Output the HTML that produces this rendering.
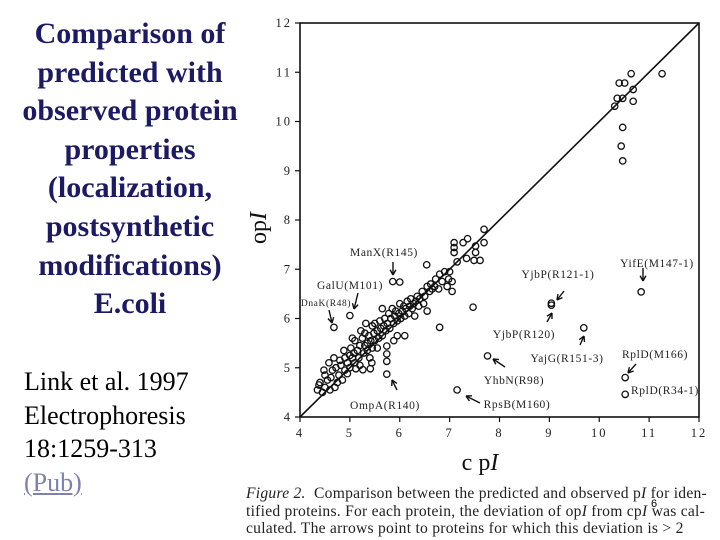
<!DOCTYPE html>
<html><head><meta charset="utf-8">
<style>
body{margin:0;background:#fff;}
#wrap{position:relative;width:720px;height:540px;overflow:hidden;background:#fff;font-family:"Liberation Serif",serif;}
.title{position:absolute;left:0;top:15px;width:260px;text-align:center;font-weight:bold;font-size:30px;line-height:38.6px;color:#1c1a63;}
.ref{position:absolute;left:24px;top:365px;font-size:26px;line-height:33.5px;color:#000;}
.ref a{color:#8080b0;text-decoration:underline;}
.cap{position:absolute;left:246px;top:485px;width:470px;font-family:"Liberation Serif",serif;font-size:15.6px;line-height:17.5px;letter-spacing:0.25px;color:#222;white-space:nowrap;}
</style></head>
<body>
<div id="wrap">
<div class="title">Comparison of<br>predicted with<br>observed protein<br>properties<br>(localization,<br>postsynthetic<br>modifications)<br>E.coli</div>
<div class="ref">Link et al. 1997<br>Electrophoresis<br>18:1259-313<br><a>(Pub)</a></div>
<svg id="chart" width="720" height="540" style="position:absolute;left:0;top:0"></svg>
<div class="cap"><i>Figure 2.</i>&nbsp; Comparison between the predicted and observed p<i>I</i> for iden-<br>tified proteins. For each protein, the deviation of op<i>I</i> from cp<i>I</i> was cal-<br>culated. The arrows point to proteins for which this deviation is &gt; 2</div>
<div style="position:absolute;left:651px;top:498px;font-size:11px;font-family:'Liberation Sans',sans-serif">6</div>
</div>
<script>
const xTicks=[4,5,6,7,8,9,10,11,12];
const yTicks=[4,5,6,7,8,9,10,11,12];
const cpI=[4.68,5.0,5.86,6.0,6.54,9.04,9.04,10.84,9.69,7.76,10.52,10.52,7.15,5.74,6.8,7.47,6.1,5.74,5.74,5.74,5.26,5.41,5.44,
11.26,10.64,10.4,10.51,10.68,10.31,10.36,10.47,10.68,10.47,10.44,10.47,
7.09,7.09,7.09,7.27,7.36,7.52,7.52,7.69,7.69,7.34,7.49,7.61,7.15,
4.35,4.4,4.45,4.5,4.5,4.55,4.6,4.62,4.65,4.7,4.72,4.75,4.78,4.8,4.82,4.85,4.9,4.9,4.95,5.0,5.0,5.02,5.05,5.08,5.1,5.1,5.15,5.18,5.2,5.2,5.25,5.28,5.3,5.3,5.35,5.35,5.38,5.4,5.42,5.45,5.48,5.5,5.5,5.55,5.58,5.6,5.62,5.65,5.68,5.7,5.72,5.75,5.78,5.8,5.82,5.85,5.88,5.9,5.92,5.95,5.98,6.0,6.02,6.05,6.08,6.1,6.12,6.15,6.18,6.2,6.22,6.25,6.28,6.3,6.32,6.35,6.38,6.4,6.45,6.48,6.5,6.55,6.55,6.6,6.62,6.65,6.7,6.72,6.78,6.8,6.85,6.9,6.95,6.98,7.0,7.05,7.05,4.38,4.48,4.58,4.68,4.88,5.12,5.22,5.32,5.45,5.55,5.65,5.88,5.95,4.95,5.05];
const opI=[5.82,6.06,6.75,6.74,7.09,6.31,6.27,6.54,5.81,5.24,4.80,4.46,4.55,4.87,5.82,6.23,5.65,5.44,5.28,5.13,4.96,4.98,5.1,
10.97,10.97,10.78,10.78,10.65,10.31,10.47,10.47,10.41,9.88,9.5,9.2,
7.54,7.44,7.34,7.54,7.62,7.47,7.34,7.81,7.54,7.22,7.18,7.18,7.15,
4.55,4.7,4.5,4.85,4.6,4.75,4.55,4.8,4.95,4.6,5.0,4.7,4.85,5.15,5.05,4.75,5.2,4.95,5.1,5.25,5.0,5.4,5.2,5.3,5.55,5.1,5.35,5.2,5.45,5.05,5.6,5.3,5.45,5.7,5.5,5.35,5.65,5.2,5.55,5.4,5.7,5.55,5.9,5.75,5.6,5.95,5.8,5.65,5.85,6.0,5.75,5.9,6.1,5.8,6.0,6.2,5.9,6.05,6.15,5.95,6.1,6.3,6.0,6.15,6.25,6.05,6.2,6.35,6.1,6.25,6.4,6.2,6.3,6.05,6.35,6.45,6.25,6.4,6.55,6.3,6.45,6.65,6.15,6.55,6.7,6.6,6.65,6.8,6.6,6.9,6.75,6.95,6.65,6.8,6.95,6.55,6.75,4.65,4.95,5.1,5.2,5.35,4.98,5.75,5.9,5.85,5.4,6.2,5.55,5.65,4.88,5.6];
const labels=["ManX(R145)","GalU(M101)","DnaK(R48)","OmpA(R140)","RpsB(M160)","YhbN(R98)","YjbP(R120)","YjbP(R121-1)","YajG(R151-3)","YifE(M147-1)","RplD(M166)","RplD(R34-1)"];
const NS="http://www.w3.org/2000/svg";
const svg=document.getElementById('chart');
const X0=300,X1=699,Y0=417,Y1=23;
function sx(v){return X0+(v-4)/(12-4)*(X1-X0);}
function sy(v){return Y0-(v-4)/(12-4)*(Y0-Y1);}
function mk(t,a){const e=document.createElementNS(NS,t);for(const k in a)e.setAttribute(k,a[k]);svg.appendChild(e);return e;}
let f=mk('rect',{x:X0,y:Y1,width:X1-X0,height:Y0-Y1,fill:'none',stroke:'#111','stroke-width':1.6});


let d=mk('line',{x1:sx(4),y1:sy(4),x2:sx(12),y2:sy(12),stroke:'#111','stroke-width':1.6});


xTicks.forEach(v=>{
 mk('line',{x1:sx(v),y1:Y0,x2:sx(v),y2:Y0+5,stroke:'#111','stroke-width':1.2});
 const t=mk('text',{x:sx(v),y:Y0+20,'text-anchor':'middle','font-size':12.5,'letter-spacing':2,fill:'#222','font-family':'Liberation Serif, serif'});
 t.textContent=v;
 
 
});
yTicks.forEach(v=>{
 mk('line',{x1:X0-5,y1:sy(v),x2:X0,y2:sy(v),stroke:'#111','stroke-width':1.2});
 const t=mk('text',{x:X0-8,y:sy(v)+4,'text-anchor':'end','font-size':12.5,'letter-spacing':2,fill:'#222','font-family':'Liberation Serif, serif'});
 t.textContent=v;
 
 
});
cpI.forEach((v,i)=>{
 const c=mk('circle',{cx:sx(v),cy:sy(opI[i]),r:3.2,fill:'none',stroke:'#111','stroke-width':1.3});
 
 
});
const xl=mk('text',{x:480,y:470,'text-anchor':'middle','font-size':24,fill:'#111','font-family':'Liberation Serif, serif'});
xl.innerHTML='c p<tspan font-style="italic">I</tspan>';


const yl=mk('text',{x:0,y:0,'text-anchor':'middle','font-size':24,fill:'#111','font-family':'Liberation Serif, serif',transform:'translate(266,228) rotate(-90)'});
yl.innerHTML='op<tspan font-style="italic">I</tspan>';


const lx=[384,350,326,385,517,514,524,558,567,657,655,665];
const ly=[256,289,306,409,408,384,338,278,362,267,358,394];
const ax=[[393,262,393,275],[358,293,354,309],[329,310,332,323],[397,390,392,380],[480,403,466,396],[505,367,493,359],[547,322,552,313],[564,291,557,300],[580,345,584,336],[643,268,643,281],[636,364,628,373],null];
labels.forEach((s,i)=>{
 const t=mk('text',{x:lx[i],y:ly[i],'text-anchor':'middle','font-size':i==2?9.5:11.5,'letter-spacing':0.6,fill:'#222','font-family':'Liberation Serif, serif'});
 t.textContent=s;
 
 
 const a=ax[i]; if(!a)return;
 const g=mk('line',{x1:a[0],y1:a[1],x2:a[2],y2:a[3],stroke:'#111','stroke-width':1.4});
 
 
 const ang=Math.atan2(a[3]-a[1],a[2]-a[0]);
 [0.5,-0.5].forEach(o=>{mk('line',{x1:a[2],y1:a[3],x2:a[2]-6*Math.cos(ang+o),y2:a[3]-6*Math.sin(ang+o),stroke:'#111','stroke-width':1.4});});
});
</script>
</body></html>
